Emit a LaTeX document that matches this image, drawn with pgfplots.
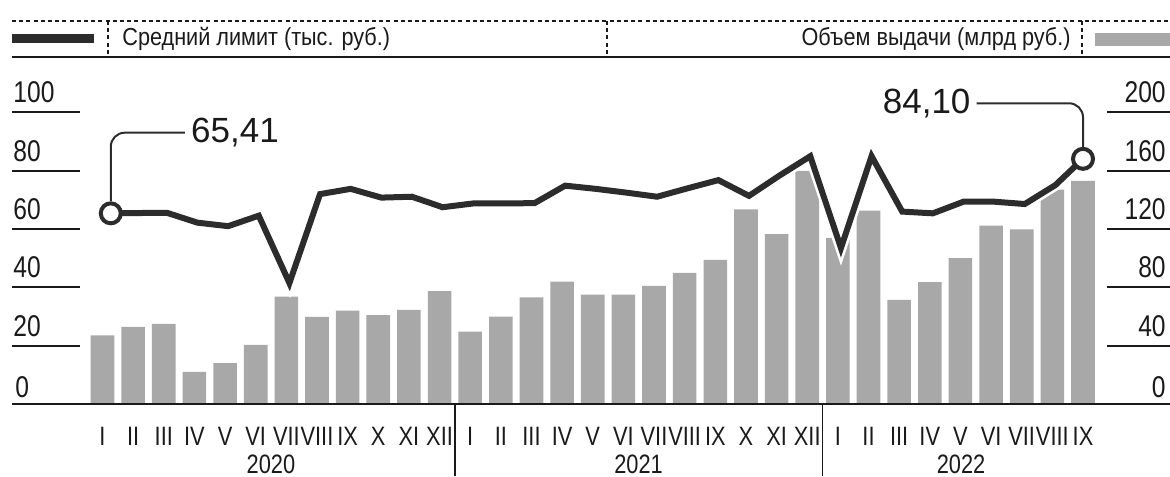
\documentclass[border=0pt]{standalone}
\usepackage{fontspec}
\setmainfont{Liberation Sans}[FakeStretch=0.82]
\newfontfamily\widefont{Liberation Sans}
\newfontfamily\legfont{Liberation Sans}[FakeStretch=0.88]
\usepackage{pgfplots}
\pgfplotsset{compat=1.18}
\usepackage{pgfplotstable}
\definecolor{barcol}{HTML}{A8A8A8}
\definecolor{linecol}{HTML}{2C2C2C}
\definecolor{txtcol}{HTML}{1A1A1A}

% Volume of issuance (bn RUB), right axis
\pgfplotstableread{
x v
0 47
1 53
2 55
3 22
4 28
5 40.5
6 73.6
7 59.7
8 64
9 61
10 64.5
11 77.5
12 49.6
13 60
14 73.2
15 84
16 75
17 75
18 81
19 90
20 98.8
21 133.6
22 116.6
23 160
24 114
25 132.6
26 71.4
27 83.7
28 100
29 122.3
30 119.8
31 147
32 153
}\bardata

% Average limit (thousand RUB), left axis
\pgfplotstableread{
x v
0.27 65.41
1.1 65.5
2.1 65.6
3.1 62.2
4.1 61.0
5.1 64.6
6.1 41.5
7.1 72.0
8.1 73.8
9.1 70.8
10.1 71.1
11.1 67.5
12.1 68.8
13.1 68.8
14.1 68.9
15.1 74.9
16.1 73.8
17.1 72.5
18.1 71.1
19.1 74.0
20.1 76.8
21.1 71.4
22.1 78.4
23.1 85.0
24.1 53.5
25.1 85.0
26.1 66.0
27.1 65.4
28.1 69.4
29.1 69.4
30.1 68.6
31.1 75.1
32.0 84.10
}\linedata

\pgfplotsset{base/.style={at={(0,0)}, anchor=south west, scale only axis,
  width=585pt, height=238pt, xmin=-3.3453, xmax=34.840,
  axis lines=none, ticks=none, clip=false}}

\begin{document}
\begin{tikzpicture}
\path[use as bounding box] (0,0) rectangle (585pt,238pt);

\begin{axis}[base, ymin=-49.40, ymax=277.19, ybar, bar width=0.77]
\addplot[fill=barcol, draw=none] table[x=x,y=v]{\bardata};
\end{axis}

\begin{axis}[base, ymin=-24.70, ymax=138.59]
\addplot[white, line width=5.6pt, forget plot] table[x=x,y=v]{\linedata};
\addplot[linecol, line width=3pt] table[x=x,y=v]{\linedata};
\draw[linecol, line width=1pt, rounded corners=7pt] (axis cs:0.27,69.6) |- (axis cs:2.69,93.07);
\draw[linecol, line width=1pt, rounded corners=7pt] (axis cs:32.0,88.2) |- (axis cs:28.53,103.16);
\addplot[only marks, mark=*, mark size=5pt, mark options={fill=white, draw=linecol, line width=2pt}] coordinates {(0.27,65.41) (32.0,84.10)};
\node[anchor=west, inner sep=0pt, txtcol, font=\widefont\fontsize{17.5}{20}\selectfont] at (axis cs:2.69,93.07) {\,65,41};
\node[anchor=east, inner sep=0pt, txtcol, font=\widefont\fontsize{17.5}{20}\selectfont] at (axis cs:28.53,103.16) {84,10\,};
\end{axis}

\begin{scope}[x=0.5pt, y=-0.5pt, shift={(0,238pt)}]
% header legend
\draw[txtcol, line width=0.9pt, dash pattern=on 2pt off 1.6pt] (12,21) -- (1170,21);
\draw[txtcol, line width=1pt] (12,57) -- (1170,57);
\foreach \xx in {108,607,1082} \draw[txtcol, line width=0.9pt, dash pattern=on 2pt off 1.6pt] (\xx,21) -- (\xx,57);
\draw[linecol, line width=4.5pt] (12,39) -- (94,39);
\fill[barcol] (1095,33) rectangle (1170,46);
\node[anchor=base west, inner sep=0pt, txtcol, font=\legfont\fontsize{12.3}{15}\selectfont] at (122,46) {Средний лимит (тыс. руб.)};
\node[anchor=base east, inner sep=0pt, txtcol, font=\legfont\fontsize{12.3}{15}\selectfont] at (1071,46) {Объем выдачи (млрд руб.)};
% baseline and separators
\draw[txtcol, line width=1pt] (12,404) -- (1170,404);
\draw[txtcol, line width=0.8pt] (454.8,404) -- (454.8,476);
\draw[txtcol, line width=0.8pt] (822.5,404) -- (822.5,476);
% left scale
\foreach \yy/\lab in {345.7/20,287.4/40,229.1/60,170.8/80,112.5/100} {
  \draw[txtcol, line width=1pt] (12,\yy) -- (80,\yy);
  \node[anchor=base west, inner sep=0pt, txtcol, font=\fontsize{15}{18}\selectfont] at (13,\yy-9.5) {\lab};
}
\node[anchor=base west, inner sep=0pt, txtcol, font=\fontsize{15}{18}\selectfont] at (15,398) {0};
% right scale
\foreach \yy/\lab in {345.7/40,287.4/80,229.1/120,170.8/160,112.5/200} {
  \draw[txtcol, line width=1pt] (1107,\yy) -- (1170,\yy);
  \node[anchor=base east, inner sep=0pt, txtcol, font=\fontsize{15}{18}\selectfont] at (1166,\yy-9.5) {\lab};
}
\node[anchor=base east, inner sep=0pt, txtcol, font=\fontsize{15}{18}\selectfont] at (1166,398) {0};
% month labels
\foreach \lab [count=\i from 0] in {I,II,III,IV,V,VI,VII,VIII,IX,X,XI,XII,I,II,III,IV,V,VI,VII,VIII,IX,X,XI,XII,I,II,III,IV,V,VI,VII,VIII,IX}
  \node[anchor=base, inner sep=0pt, txtcol, font=\fontsize{13.3}{16}\selectfont] at ({102.5+30.64*\i},445.5) {\lab};
\foreach \xx/\lab in {271/2020,638.6/2021,961/2022}
  \node[anchor=base, inner sep=0pt, txtcol, font=\fontsize{13.3}{16}\selectfont] at (\xx,473.5) {\lab};
\end{scope}
\end{tikzpicture}
\end{document}
